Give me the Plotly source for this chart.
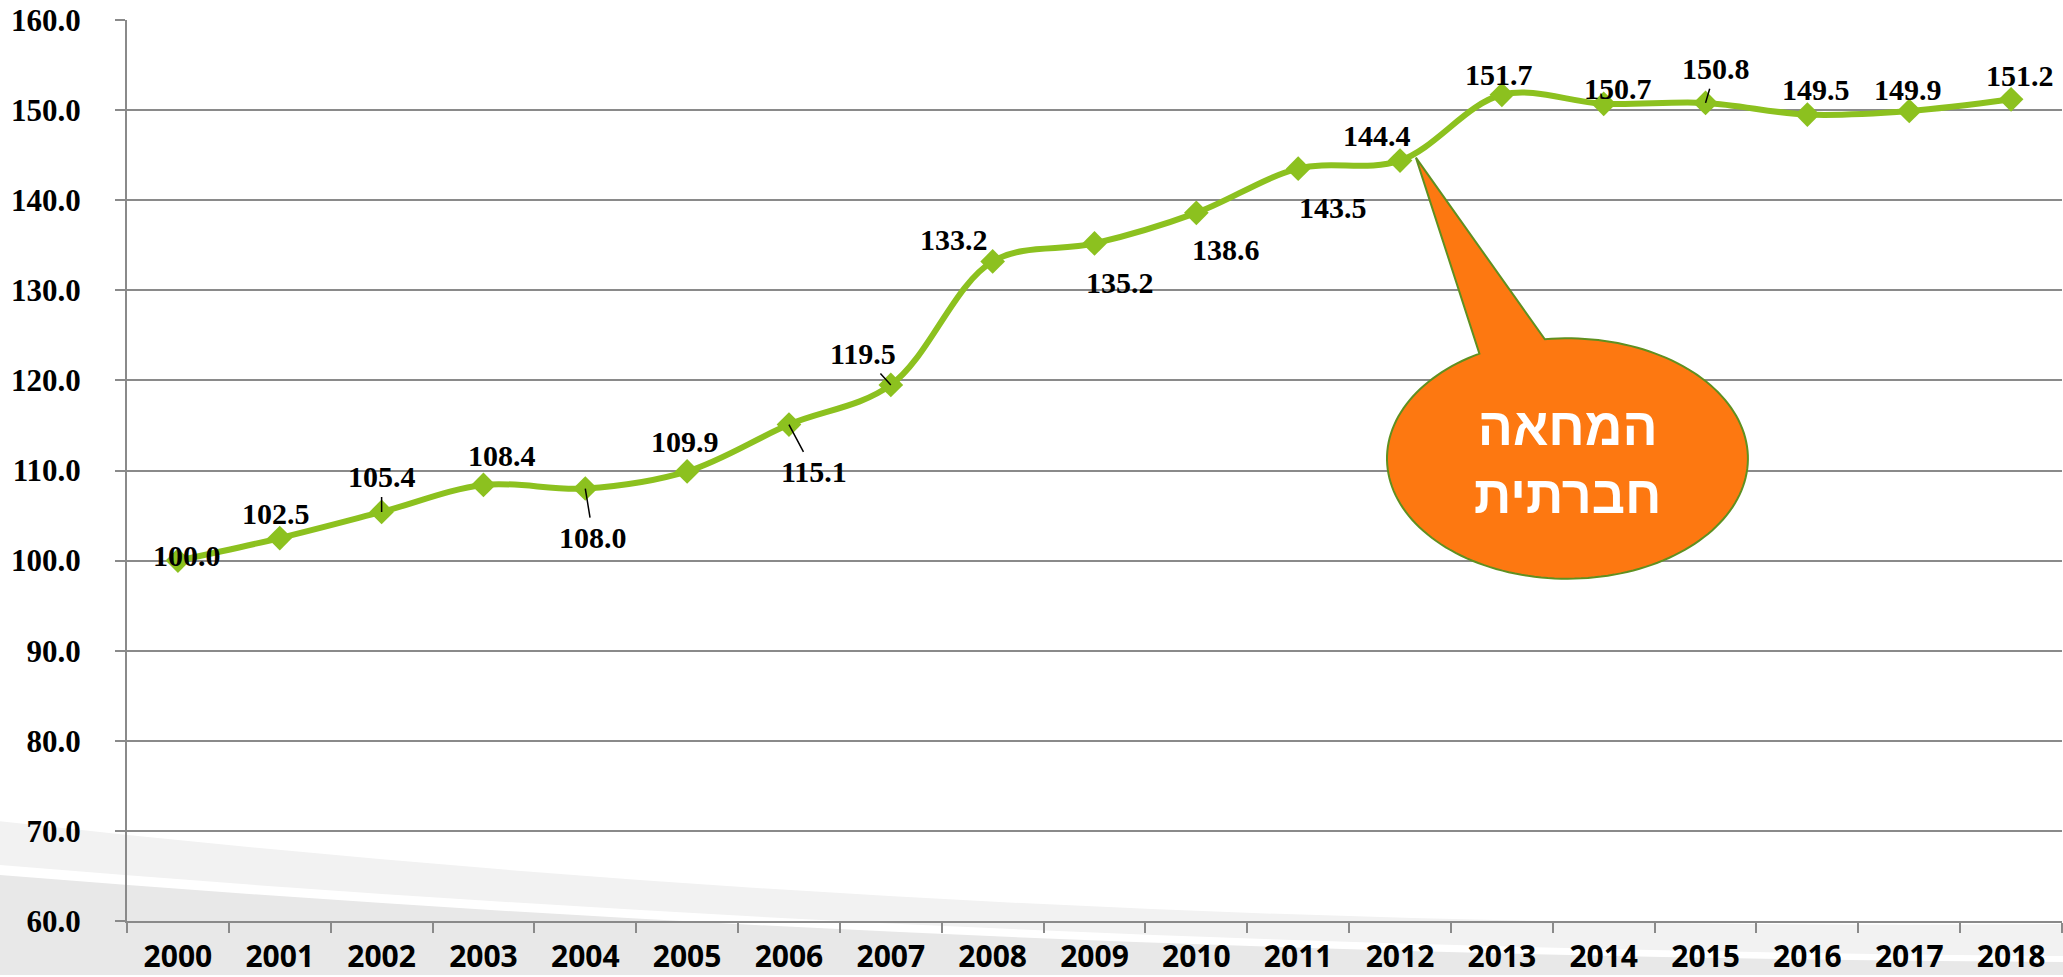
import numpy as np
import plotly.graph_objects as go

# ---------------- data ----------------
years = [str(y) for y in range(2000, 2019)]
index_values = [100.0, 102.5, 105.4, 108.4, 108.0, 109.9, 115.1, 119.5, 133.2,
                135.2, 138.6, 143.5, 144.4, 151.7, 150.7, 150.8, 149.5, 149.9, 151.2]
y_ticks = [60, 70, 80, 90, 100, 110, 120, 130, 140, 150, 160]
callout_lines = ["המחאה", "חברתית"]

# label offsets in pixels (dx right, dy down) and whether a leader line is drawn
label_dx = [9, -4, 0, 19, 8, -2, 25, -28, -39, 25, 30, 35, -23, -3, 14, 10, 9, -1, 9]
label_dy = [-5, -25, -35, -29, 49, -30, 47, -31, -22, 39, 37, 39, -25, -20, -15, -34, -25, -22, -24]
leader = [False, False, True, False, True, False, True, True, False, False,
          False, False, False, False, False, True, False, False, False]

W, H = 2063, 977
ML, MR, MT, MB = 127, 1, 20, 54
PW, PH = W - ML - MR, H - MT - MB

GREEN = "#8cc11f"
GRID = "#8a8a8a"
SERIF = "Liberation Serif, DejaVu Serif, serif"

fig = go.Figure()
fig.add_trace(go.Scatter(
    x=years, y=index_values, mode="lines+markers",
    line=dict(color=GREEN, width=6, shape="spline", smoothing=1.0),
    marker=dict(symbol="diamond", size=19, color=GREEN),
    hoverinfo="x+y", showlegend=False, cliponaxis=False,
))

# data labels
label_font = dict(family=SERIF, size=30, color="black", weight=700)
for i, v in enumerate(index_values):
    txt = f"{v:.1f}"
    if leader[i]:
        fig.add_annotation(x=i, y=v, xref="x", yref="y", text=txt, showarrow=True,
                           arrowhead=0, arrowwidth=1.5, arrowcolor="black",
                           ax=label_dx[i], ay=label_dy[i],
                           standoff=0, startstandoff=2, font=label_font)
    else:
        fig.add_annotation(x=i, y=v, xref="x", yref="y", text=txt, showarrow=False,
                           xshift=label_dx[i], yshift=-label_dy[i], font=label_font)

# ---------------- background swoosh (paper coords) ----------------
def px(xp):
    return (xp - ML) / PW

def py(yp):
    return (MT + PH - yp) / PH

def qpath(p0, p1, p2, lower=None):
    s = f"M {px(p0[0])},{py(p0[1])} Q {px(p1[0])},{py(p1[1])} {px(p2[0])},{py(p2[1])}"
    if lower is None:
        s += f" L {px(W)},{py(H)} L {px(0)},{py(H)} Z"
    else:
        q0, q1, q2 = lower
        s += f" L {px(q2[0])},{py(q2[1])} Q {px(q1[0])},{py(q1[1])} {px(q0[0])},{py(q0[1])} Z"
    return s

light = qpath((0, 823), (1000, 935), (W, 926), lower=((0, 867), (1000, 950), (W, 958)))
dark = qpath((0, 877), (1000, 958), (W, 964))
fig.add_shape(type="path", path=light, xref="paper", yref="paper",
              fillcolor="#f2f2f2", line=dict(width=0), layer="below")
fig.add_shape(type="path", path=dark, xref="paper", yref="paper",
              fillcolor="#e8e8e8", line=dict(width=0), layer="below")

# ---------------- callout bubble (data coords, category index units) ----------------
cx, cy, rx, ry = 13.644, 111.33, 1.772, 13.34
t = np.radians(np.linspace(119.2, 457.2, 160))
ex = cx + rx * np.cos(t)
ey = cy + ry * np.sin(t)
tip = (12.156, 144.72)
path = "M " + " L ".join(f"{a:.4f},{b:.4f}" for a, b in zip(ex, ey))
path += f" L {tip[0]},{tip[1]} Z"
fig.add_shape(type="path", path=path, xref="x", yref="y",
              fillcolor="#fd7811", line=dict(color="#5f9020", width=2), layer="above")
fig.add_annotation(x=cx, y=111.1, xref="x", yref="y", showarrow=False,
                   text="<br>".join(callout_lines),
                   font=dict(family="Liberation Sans, DejaVu Sans, sans-serif", size=52,
                             color="white", weight=700))

fig.update_layout(
    width=W, height=H,
    margin=dict(l=ML, r=MR, t=MT, b=MB, pad=0),
    paper_bgcolor="white", plot_bgcolor="rgba(0,0,0,0)",
    showlegend=False,
)
fig.update_xaxes(
    type="category", categoryorder="array", categoryarray=years,
    range=[-0.5, len(years) - 0.5],
    showgrid=False, zeroline=False,
    showline=True, linecolor=GRID, linewidth=2,
    ticks="outside", tickson="boundaries", ticklen=10, tickcolor=GRID, tickwidth=2,
    tickfont=dict(family="Open Sans, Noto Sans, sans-serif", size=30, color="black", weight=700),
    ticklabelstandoff=8,
)
fig.update_yaxes(
    range=[60, 160], tickvals=y_ticks, ticktext=[f"{v:.1f}" for v in y_ticks],
    showgrid=True, gridcolor=GRID, gridwidth=2, zeroline=False,
    showline=True, linecolor=GRID, linewidth=2,
    ticks="outside", ticklen=10, tickcolor=GRID, tickwidth=2,
    tickfont=dict(family=SERIF, size=31, color="black", weight=700),
    ticklabelstandoff=28,
)

fig.write_html(
    "out.html",
    config={"displayModeBar": False},
    post_script="document.documentElement.style.margin='0';document.body.style.margin='0';"
                "document.body.style.overflow='hidden';",
)
